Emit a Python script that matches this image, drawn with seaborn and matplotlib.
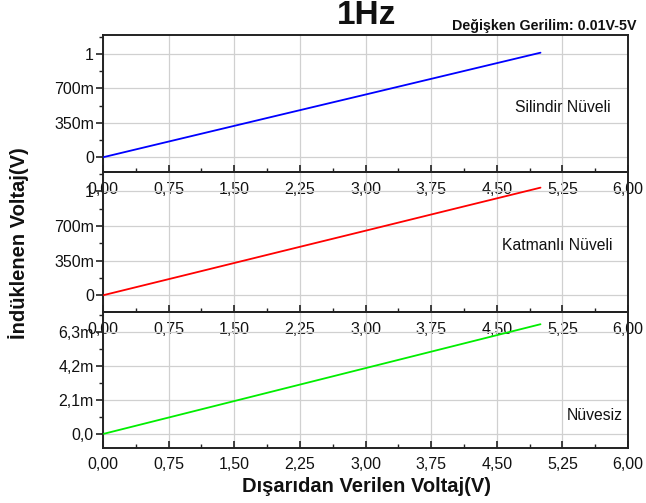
import matplotlib
matplotlib.use("Agg")
import matplotlib.pyplot as plt
from matplotlib.ticker import FixedLocator, MultipleLocator
import numpy as np
import pandas as pd
import seaborn as sns

sns.set_theme(style="white")
plt.rcParams["font.family"] = ["Liberation Sans", "DejaVu Sans"]

# Applied voltage (V)
voltage = [0.01, 1.0, 2.0, 3.0, 4.0, 5.0]
# Induced voltage (V) for each core type
silindir = [0.002, 0.213, 0.426, 0.638, 0.851, 1.064]
katmanli = [0.002, 0.217, 0.435, 0.652, 0.870, 1.087]
nuvesiz_m = [0.014, 1.356, 2.712, 4.068, 5.424, 6.780]  # in mV

panel_names = ["Silindir Nüveli", "Katmanlı Nüveli", "Nüvesiz"]
colors = ["#0000ff", "#ff0000", "#00ee00"]

x_ticks = [0.0, 0.75, 1.5, 2.25, 3.0, 3.75, 4.5, 5.25, 6.0]
x_ticklabels = ["0,00", "0,75", "1,50", "2,25", "3,00", "3,75", "4,50", "5,25", "6,00"]

y_ticks_v = [0.0, 0.35, 0.70, 1.05]
y_ticklabels_v = ["0", "350m", "700m", "1"]
y_ticks_m = [0.0, 2.1, 4.2, 6.3]
y_ticklabels_m = ["0,0", "2,1m", "4,2m", "6,3m"]

df = pd.DataFrame({
    "voltage": voltage * 3,
    "induced": silindir + katmanli + nuvesiz_m,
    "panel": [panel_names[0]] * 6 + [panel_names[1]] * 6 + [panel_names[2]] * 6,
})

W, H = 646, 503
fig = plt.figure(figsize=(W / 100, H / 100), dpi=100)
fig.patch.set_facecolor("white")

left, right = 103 / W, 628 / W
bounds_px = [(35, 172), (172, 312), (312, 447.7)]
ylims = [(-0.150, 1.244), (-0.169, 1.245), (-0.846, 7.535)]
# panel caption centres in pixels (x, y from top)
label_px = [(563, 108), (557, 246), (595, 416)]

axes = []
for i, (top_px, bot_px) in enumerate(bounds_px):
    ax = fig.add_axes([left, 1 - bot_px / H, right - left, (bot_px - top_px) / H])
    ax.patch.set_visible(False)
    sub = df[df["panel"] == panel_names[i]]
    sns.lineplot(data=sub, x="voltage", y="induced", color=colors[i],
                 linewidth=1.3, ax=ax, legend=False, zorder=3)
    ax.set_xlim(0, 6)
    ax.set_ylim(*ylims[i])
    ax.set_xlabel("")
    ax.set_ylabel("")

    ax.xaxis.set_major_locator(FixedLocator(x_ticks))
    ax.set_xticklabels(x_ticklabels)
    ax.xaxis.set_minor_locator(MultipleLocator(0.375))
    if i < 2:
        ax.yaxis.set_major_locator(FixedLocator(y_ticks_v))
        ax.set_yticklabels(y_ticklabels_v)
        ax.yaxis.set_minor_locator(MultipleLocator(0.175))
    else:
        ax.yaxis.set_major_locator(FixedLocator(y_ticks_m))
        ax.set_yticklabels(y_ticklabels_m)
        ax.yaxis.set_minor_locator(MultipleLocator(1.05))

    ax.grid(True, which="major", color="#d0d0d0", linewidth=0.9, zorder=0)
    ax.set_axisbelow(True)
    for s in ax.spines.values():
        s.set_visible(True)
        s.set_color("#222222")
        s.set_linewidth(1.4)

    ax.tick_params(axis="x", which="major", direction="in", length=5, width=1.2,
                   color="#222222", labelsize=11.5, labelcolor="#111111", pad=7,
                   bottom=True)
    ax.tick_params(axis="x", which="minor", direction="in", length=3, width=1.0,
                   color="#222222", bottom=True)
    ax.tick_params(axis="y", which="major", direction="out", length=5, width=1.2,
                   color="#222222", labelsize=11.5, labelcolor="#111111", pad=1.5,
                   left=True)
    ax.tick_params(axis="y", which="minor", direction="out", length=3, width=1.0,
                   color="#222222", left=True)

    fig.text(label_px[i][0] / W, 1 - label_px[i][1] / H, panel_names[i],
             ha="center", va="center", fontsize=11.3, color="#111111")
    axes.append(ax)

fig.text(367 / W, 1 - 15 / H, "1Hz", ha="center", va="center",
         fontsize=24, fontweight="bold", color="#111111")
fig.text(637 / W, 1 - 26 / H, "Değişken Gerilim: 0.01V-5V", ha="right", va="center",
         fontsize=10.3, fontweight="bold", color="#111111")
fig.text(367 / W, 1 - 486 / H, "Dışarıdan Verilen Voltaj(V)", ha="center", va="center",
         fontsize=14.5, fontweight="bold", color="#111111")
fig.text(19 / W, 1 - 243 / H, "İndüklenen Voltaj(V)", ha="center", va="center",
         rotation=90, fontsize=14.5, fontweight="bold", color="#111111")

fig.savefig("out.png", dpi=100, facecolor="white")
